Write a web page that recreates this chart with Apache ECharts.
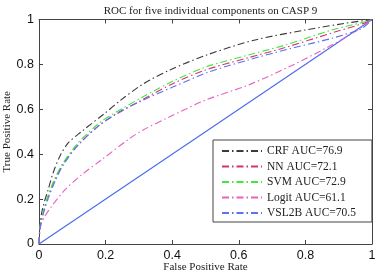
<!DOCTYPE html>
<html>
<head>
<meta charset="utf-8">
<script src="https://cdn.jsdelivr.net/npm/echarts@6/dist/echarts.min.js"></script>
<style>html,body{margin:0;padding:0;background:#fff}#c{width:378px;height:274px}</style>
</head>
<body>
<div id="c"></div>
<script>
const title = 'ROC for five individual components on CASP 9';
const xName = 'False Positive Rate';
const yName = 'True Positive Rate';
const tickValues = [0, 0.2, 0.4, 0.6, 0.8, 1];

const seriesNames = ['CRF AUC=76.9', 'NN AUC=72.1', 'SVM AUC=72.9', 'Logit AUC=61.1', 'VSL2B AUC=70.5'];

const crfPts = [[0,0],[0.004,0.1],[0.012,0.166],[0.027,0.24],[0.042,0.315],[0.062,0.389],[0.087,0.449],[0.127,0.5],[0.2,0.585],[0.243,0.638],[0.313,0.713],[0.393,0.775],[0.504,0.842],[0.649,0.909],[0.8,0.953],[0.919,0.983],[1,1]];
const nnPts = [[0,0],[0.003,0.075],[0.012,0.135],[0.027,0.21],[0.047,0.285],[0.072,0.355],[0.117,0.44],[0.182,0.53],[0.223,0.57],[0.313,0.645],[0.403,0.715],[0.5,0.775],[0.629,0.83],[0.739,0.875],[0.879,0.94],[0.979,0.985],[1,1]];
const svmPts = [[0,0],[0.003,0.08],[0.012,0.14],[0.027,0.215],[0.047,0.29],[0.072,0.36],[0.117,0.45],[0.182,0.54],[0.223,0.58],[0.313,0.656],[0.403,0.726],[0.5,0.788],[0.629,0.842],[0.739,0.886],[0.879,0.953],[0.979,0.99],[1,1]];
const logitPts = [[0,0],[0.005,0.08],[0.017,0.122],[0.037,0.166],[0.077,0.24],[0.127,0.307],[0.187,0.374],[0.273,0.471],[0.313,0.508],[0.393,0.567],[0.5,0.641],[0.629,0.708],[0.759,0.795],[0.879,0.886],[0.949,0.946],[1,1]];
const vslPts = [[0,0],[0.003,0.07],[0.012,0.13],[0.027,0.2],[0.047,0.275],[0.072,0.35],[0.117,0.44],[0.182,0.53],[0.243,0.59],[0.303,0.634],[0.403,0.7],[0.508,0.765],[0.629,0.82],[0.759,0.872],[0.879,0.916],[0.969,0.96],[1,1]];
const diagPts = [[0,0],[1,1]];

const colors = ['#3a3a3a', '#d83272', '#3ee83e', '#e660c4', '#5872f0'];
const diagColor = '#4a68ee';
const dashDot = [7, 3, 1.5, 3];

const allPts = [crfPts, nnPts, svmPts, logitPts, vslPts];
const serif = '"Liberation Serif", "DejaVu Serif", serif';
const sans = '"Liberation Sans", Arial, sans-serif';
const boxColor = '#444';

const series = allPts.map((pts, i) => ({
  name: seriesNames[i],
  type: 'line',
  data: pts,
  symbol: 'none',
  smooth: 0.3,
  silent: true,
  animation: false,
  lineStyle: { color: colors[i], width: 1.1, type: dashDot },
  itemStyle: { color: colors[i] },
  z: 3 + i
}));
series.push({
  name: 'diag', type: 'line', data: diagPts, symbol: 'none', animation: false,
  lineStyle: { color: diagColor, width: 1.1, type: 'solid' }, z: 2
});

const chart = echarts.init(document.getElementById('c'), null, { renderer: 'canvas' });
const hiddenLabel = { show: false };
chart.setOption({
  backgroundColor: '#fff',
  animation: false,
  title: {
    text: title, left: 205.5, textAlign: 'center', top: 1,
    textStyle: { fontFamily: serif, fontSize: 11, fontWeight: 'normal', color: '#222' }
  },
  grid: { left: 39, top: 19.5, right: 6, bottom: 30, containLabel: false, outerBoundsMode: 'none' },
  legend: {
    data: seriesNames,
    orient: 'vertical',
    left: 213, top: 140,
    padding: [5, 16, 3, 8],
    itemWidth: 40, itemHeight: 14, itemGap: 3.5,
    backgroundColor: '#fff',
    borderColor: boxColor, borderWidth: 1, borderRadius: 0,
    itemStyle: { opacity: 0 },
    textStyle: { fontFamily: serif, fontSize: 11.5, color: '#222' },
    selectedMode: false
  },
  xAxis: [{
    type: 'value', min: 0, max: 1, interval: 0.2,
    name: xName, nameLocation: 'middle', nameGap: 18, nameMoveOverlap: false,
    nameTextStyle: { fontFamily: serif, fontSize: 11, color: '#222' },
    axisLine: { onZero: false, lineStyle: { color: boxColor, width: 1 } },
    axisTick: { inside: true, length: 4, lineStyle: { color: boxColor } },
    axisLabel: { fontFamily: sans, fontSize: 12.5, color: '#111', margin: 5,
      formatter: v => String(Math.round(v*10)/10) },
    splitLine: { show: false }
  }, {
    type: 'value', min: 0, max: 1, interval: 0.2, position: 'top',
    axisLine: { onZero: false, lineStyle: { color: boxColor, width: 1 } },
    axisTick: { inside: true, length: 4, lineStyle: { color: boxColor } },
    axisLabel: hiddenLabel, splitLine: { show: false }
  }],
  yAxis: [{
    type: 'value', min: 0, max: 1, interval: 0.2,
    name: yName, nameLocation: 'middle', nameGap: 26, nameMoveOverlap: false,
    nameTextStyle: { fontFamily: serif, fontSize: 11, color: '#222' },
    axisLine: { show: true, onZero: false, lineStyle: { color: boxColor, width: 1 } },
    axisTick: { show: true, inside: true, length: 4, lineStyle: { color: boxColor } },
    axisLabel: { fontFamily: sans, fontSize: 12.5, color: '#111', margin: 5,
      formatter: v => String(Math.round(v*10)/10) },
    splitLine: { show: false }
  }, {
    type: 'value', min: 0, max: 1, interval: 0.2, position: 'right',
    axisLine: { show: true, onZero: false, lineStyle: { color: boxColor, width: 1 } },
    axisTick: { show: true, inside: true, length: 4, lineStyle: { color: boxColor } },
    axisLabel: hiddenLabel, splitLine: { show: false }
  }],
  series: series
});
</script>
</body>
</html>
